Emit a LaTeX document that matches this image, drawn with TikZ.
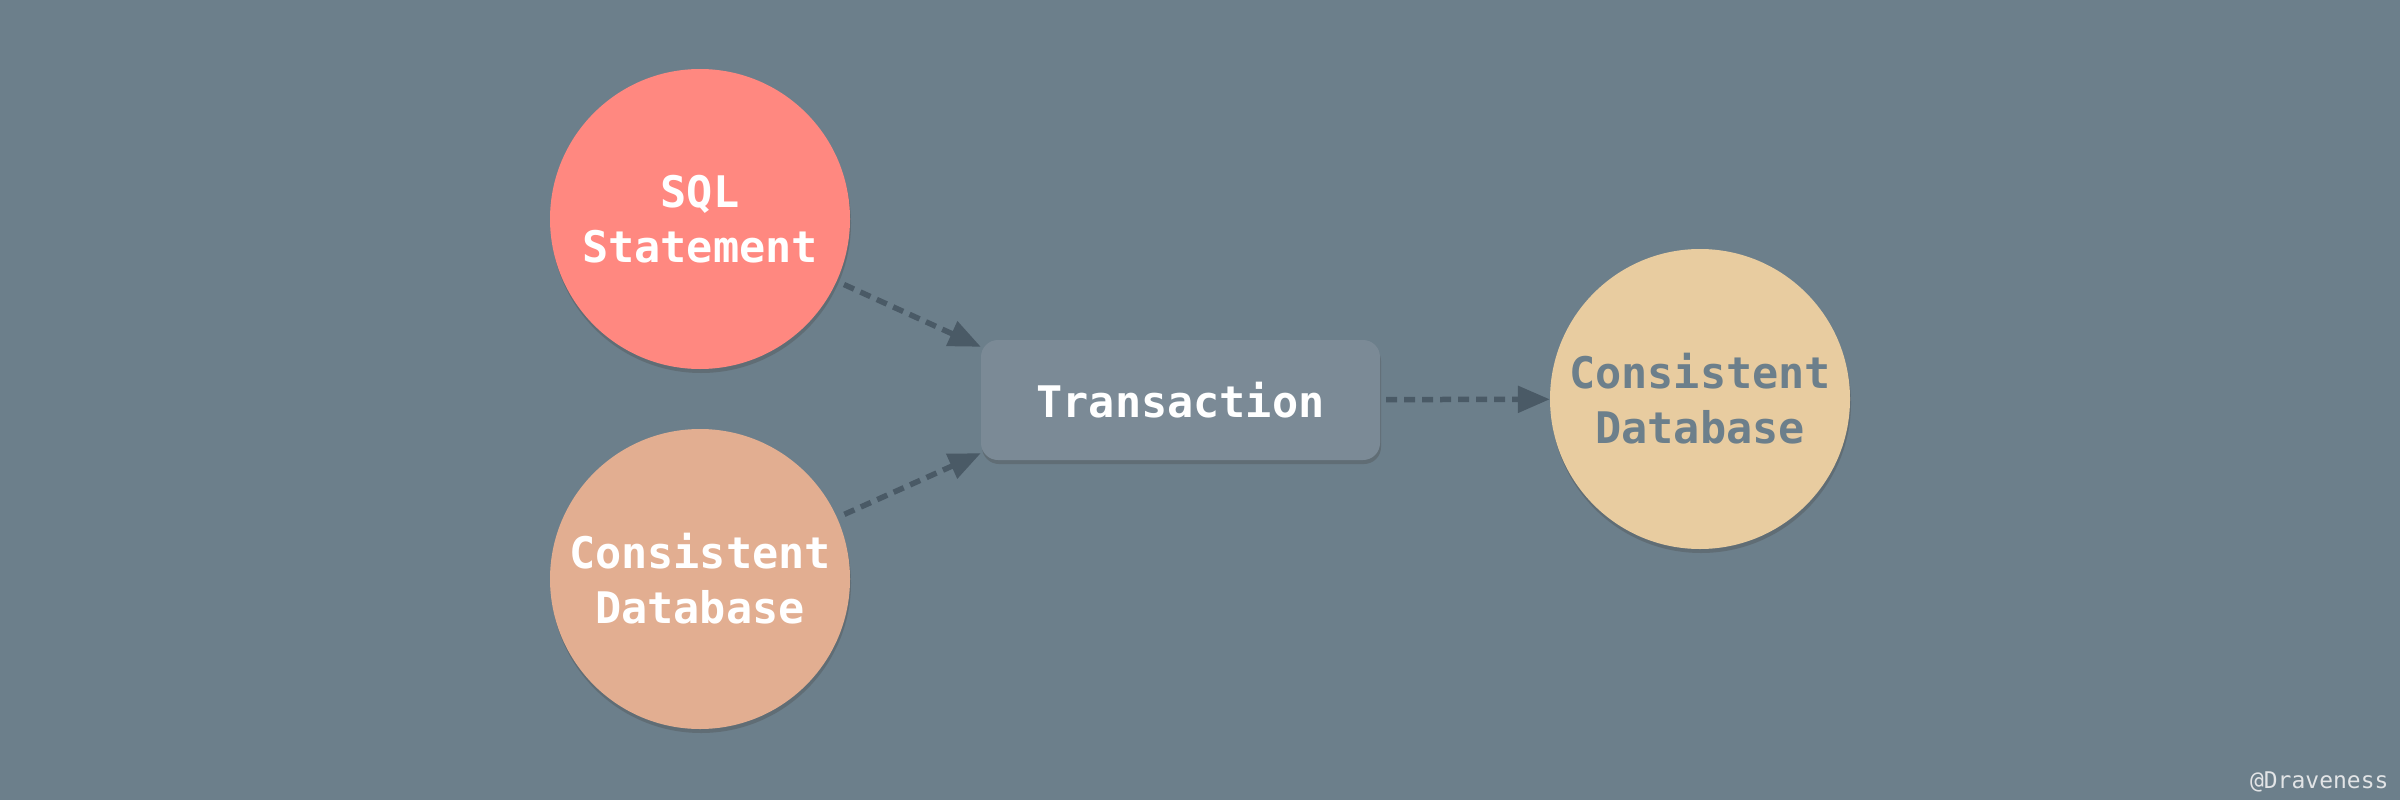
\documentclass[tikz,border=0pt]{standalone}
\usepackage{fontspec}
\setmonofont{DejaVu Sans Mono}
\usetikzlibrary{arrows.meta,shadows,calc}
\definecolor{bgc}{HTML}{6C7F8B}
\definecolor{sqlc}{HTML}{FF8880}
\definecolor{dbc}{HTML}{E2AE91}
\definecolor{db2c}{HTML}{E8CCA0}
\definecolor{txc}{HTML}{7B8A96}
\definecolor{arrc}{HTML}{4A5A66}
\definecolor{wmc}{HTML}{E2E4E6}
\tikzset{
  shad/.style={drop shadow={opacity=0.35,fill=black!70,shadow xshift=1pt,shadow yshift=-4pt}},
  circ/.style={circle,minimum size=300pt,inner sep=0pt,shad,align=center,
    font=\ttfamily\bfseries\fontsize{43.5}{55}\selectfont},
  txbox/.style={rectangle,rounded corners=17pt,minimum width=399pt,minimum height=120pt,
    fill=txc,shad,text=white,font=\ttfamily\bfseries\fontsize{43.5}{55}\selectfont},
  conn/.style={draw=arrc,line width=5.5pt,dash pattern=on 11pt off 7pt,
    -{Triangle[length=32pt,width=26pt]}}
}
\begin{document}
\begin{tikzpicture}[x=1pt,y=-1pt]
\fill[bgc] (0,0) rectangle (2400,800);
\useasboundingbox (0,0) rectangle (2400,800);
\node[circ,fill=sqlc,text=white] (sql) at (700,219) {SQL\\Statement};
\node[circ,fill=dbc,text=white] (db) at (700,579) {Consistent\\Database};
\node[circ,fill=db2c,text=bgc] (db2) at (1700,399) {Consistent\\Database};
\node[txbox] (tx) at (1180.5,400) {Transaction};
\coordinate (t1) at ($(tx.north west)+(0,7)$);
\coordinate (t2) at ($(tx.south west)+(0,-7)$);
\draw[conn,shorten <=8pt] (sql) -- (t1);
\draw[conn,shorten <=8pt] (db) -- (t2);
\draw[conn,shorten <=6pt] (tx) -- (db2);
\node[anchor=base east,text=wmc,font=\ttfamily\fontsize{23}{23}\selectfont] (wm) at (2392,788) {@Draveness};
\end{tikzpicture}
\end{document}
